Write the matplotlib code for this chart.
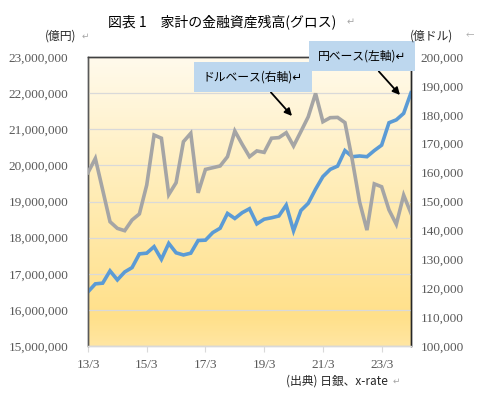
import numpy as np
import matplotlib
matplotlib.use("Agg")
from matplotlib import pyplot as plt
from matplotlib.colors import LinearSegmentedColormap
from matplotlib.ticker import FuncFormatter

# quarterly, 2013/3 .. 2024/3
quarters = [f"{y % 100}/{m}" for y in range(2013, 2025) for m in (3, 6, 9, 12)][:45]

# household financial assets, 億円 (left axis)
yen_base = [16500000, 16720000, 16740000, 17080000, 16830000, 17050000, 17170000, 17550000,
            17570000, 17750000, 17400000, 17840000, 17580000, 17520000, 17570000, 17920000,
            17930000, 18140000, 18260000, 18670000, 18530000, 18690000, 18800000, 18380000,
            18510000, 18550000, 18600000, 18900000, 18190000, 18750000, 18950000, 19340000,
            19690000, 19890000, 19980000, 20410000, 20240000, 20260000, 20240000, 20410000,
            20560000, 21180000, 21260000, 21440000, 22010000]

# same in 億ドル (right axis)
usd_base = [160000, 164900, 154000, 143000, 140700, 139900, 143600, 145700,
            155700, 173000, 171900, 152400, 156500, 170700, 173600, 153000,
            161100, 161700, 162300, 165500, 174400, 169800, 165500, 167500,
            167000, 171900, 172100, 173800, 169200, 174200, 179300, 187400,
            177600, 179000, 179100, 177300, 164400, 149800, 140100, 156100,
            155100, 147100, 142100, 152200, 145900]

tick_pos = [0, 8, 16, 24, 32, 40]

jp = ['Noto Sans CJK JP', 'DejaVu Sans']
num_font = 'Liberation Serif'
txt_gray = '#595959'
mark_gray = '#A6A6A6'

fig = plt.figure(figsize=(4.78, 3.97), dpi=100)
ax = fig.add_axes([88 / 478, 1 - 346 / 397, (411 - 88) / 478, (346 - 57) / 397])
ax2 = ax.twinx()

# gradient background
cmap = LinearSegmentedColormap.from_list(
    'bg', [(0.0, '#FFE6A2'), (0.1, '#FFE08A'), (0.55, '#FFEDB8'), (1.0, '#FFFAEC')])
grad = np.linspace(0, 1, 256).reshape(-1, 1)
ax.imshow(grad, cmap=cmap, aspect='auto', extent=[0, 1, 0, 1],
          transform=ax.transAxes, origin='lower', zorder=0)

x = np.arange(len(quarters))
ax.plot(x, yen_base, color='#5B9BD5', lw=2.6, zorder=3, solid_joinstyle='miter')
ax2.plot(x, usd_base, color='#A5A5A5', lw=2.6, zorder=3, solid_joinstyle='miter')

ax.set_xlim(0, 44)
ax.set_ylim(15000000, 23000000)
ax2.set_ylim(100000, 200000)
ax.set_yticks(np.arange(15000000, 23000001, 1000000))
ax2.set_yticks(np.arange(100000, 200001, 10000))
ax.yaxis.grid(True, color='#D9D9D9', lw=0.9, zorder=1)
ax.set_axisbelow(False)

fmt = FuncFormatter(lambda v, p: f"{int(v):,}")
ax.yaxis.set_major_formatter(fmt)
ax2.yaxis.set_major_formatter(fmt)
ax.set_xticks(tick_pos)
ax.set_xticklabels([quarters[i] for i in tick_pos])

for a in (ax, ax2):
    for lab in a.get_yticklabels() + a.get_xticklabels():
        lab.set_fontfamily(num_font)
        lab.set_fontsize(9.5)
        lab.set_color(txt_gray)
ax.tick_params(axis='y', length=0, pad=14)
ax2.tick_params(axis='y', length=0, pad=7)
ax.tick_params(axis='x', length=4, color='#D9D9D9', pad=5)

for a in (ax, ax2):
    a.spines['bottom'].set_color('#D9D9D9')
    a.spines['left'].set_color('#595959')
    a.spines['right'].set_color('#262626')
    a.spines['top'].set_color('#404040')
    for s in a.spines.values():
        s.set_linewidth(1.0)

# titles and axis unit labels
fig.text(108 / 478, 1 - 22 / 397, '図表 1　家計の金融資産残高(グロス)', family=jp,
         fontsize=10, ha='left', va='center')
fig.text(347 / 478, 1 - 22 / 397, '↵', family=jp, fontsize=7, ha='left',
         va='center', color=mark_gray)
fig.text(45 / 478, 1 - 36 / 397, '(億円)', family=jp, fontsize=8.5, ha='left',
         va='center', color='#262626')
fig.text(82 / 478, 1 - 36 / 397, '↵', family=jp, fontsize=6.5, ha='left',
         va='center', color=mark_gray)
fig.text(410 / 478, 1 - 36 / 397, '(億ドル)', family=jp, fontsize=8.5, ha='left',
         va='center', color='#262626')
fig.text(466 / 478, 1 - 36 / 397, '←', family=jp, fontsize=6, ha='left',
         va='center', color=mark_gray)
fig.text(286 / 478, 1 - 381 / 397, '(出典) 日銀、x-rate', family=jp, fontsize=8.5,
         ha='left', va='center', color='#262626')
fig.text(393 / 478, 1 - 381 / 397, '↵', family=jp, fontsize=6.5, ha='left',
         va='center', color=mark_gray)

# callouts
box = dict(boxstyle='square,pad=0.75', fc='#BDD7EE', ec='none')
arrow = dict(arrowstyle='-|>,head_length=0.5,head_width=0.25', color='black',
             lw=1.3, shrinkA=0, shrinkB=0, relpos=(0.6, 0.0))
ax2.annotate('ドルベース(右軸)↵', xy=(292 / 478, 1 - 116 / 397), xycoords='figure fraction',
             xytext=(253 / 478, 1 - 77 / 397), textcoords='figure fraction',
             family=jp, fontsize=8.5, ha='center', va='center', bbox=box,
             arrowprops=arrow, zorder=5, annotation_clip=False)
ax2.annotate('円ベース(左軸)↵', xy=(400 / 478, 1 - 95 / 397), xycoords='figure fraction',
             xytext=(362 / 478, 1 - 56 / 397), textcoords='figure fraction',
             family=jp, fontsize=8.5, ha='center', va='center', bbox=box,
             arrowprops=arrow, zorder=5, annotation_clip=False)

fig.savefig('out.png', dpi=100)
